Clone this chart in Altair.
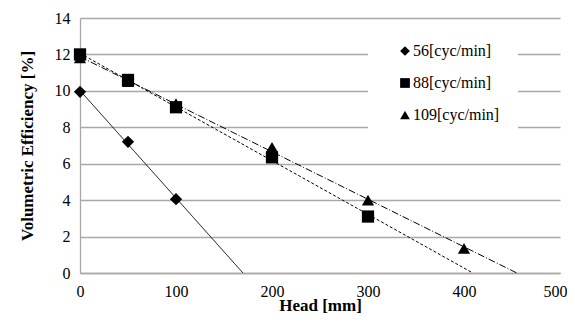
import altair as alt
import numpy as np
import pandas as pd

series = ["56[cyc/min]", "88[cyc/min]", "109[cyc/min]"]
x56 = [0, 50, 100]
y56 = [9.95, 7.2, 4.05]
x88 = [0, 50, 100, 200, 300]
y88 = [12.0, 10.6, 9.1, 6.35, 3.1]
x109 = [0, 50, 100, 200, 300, 400]
y109 = [11.8, 10.5, 9.3, 6.9, 4.0, 1.35]
xticks = [0, 100, 200, 300, 400, 500]
yticks = [0, 2, 4, 6, 8, 10, 12, 14]

pts = []
trend = []
for name, xs, ys in [(series[0], x56, y56), (series[1], x88, y88), (series[2], x109, y109)]:
    for a, b in zip(xs, ys):
        pts.append({"s": name, "x": a, "y": b})
    m, c = np.polyfit(xs, ys, 1)
    trend.append({"t": name, "x": 0.0, "y": float(c)})
    trend.append({"t": name, "x": float(-c / m), "y": 0.0})

pts = pd.DataFrame(pts)
trend = pd.DataFrame(trend)

font = "Liberation Serif"
xs_ = alt.Scale(domain=[0, 500], nice=False)
ys_ = alt.Scale(domain=[0, 14], nice=False)
xax = alt.Axis(values=xticks, title="Head [mm]",
               labelAlign=alt.ExprRef("datum.value == 500 ? 'right' : 'center'"),
               labelOffset=alt.ExprRef("datum.value == 500 ? 7 : 0"))
yax = alt.Axis(values=yticks, title="Volumetric Efficiency  [%]")
X = alt.X("x:Q", scale=xs_, axis=xax)
Y = alt.Y("y:Q", scale=ys_, axis=yax)

lines = alt.Chart(trend).mark_line(color="black", strokeWidth=1).encode(
    x=X, y=Y,
    strokeDash=alt.StrokeDash("t:N", scale=alt.Scale(domain=series, range=[[1, 0], [3, 2], [7, 2, 1, 2]]), legend=None),
)

points = alt.Chart(pts).mark_point(filled=True, opacity=1, size=150).encode(
    x=X, y=Y,
    color=alt.value("black"),
    shape=alt.Shape("s:N", scale=alt.Scale(domain=series, range=["diamond", "square", "triangle-up"]),
                    legend=alt.Legend(title=None, orient="none", legendX=288, legendY=7,
                                      fillColor="white", padding=18, symbolSize=95,
                                      symbolFillColor="black", symbolStrokeColor="black",
                                      labelFont=font, labelFontSize=16, labelColor="black",
                                      rowPadding=16, symbolOffset=11, labelOffset=0)),
)

chart = alt.layer(points, lines).properties(
    width=480, height=255,
    autosize=alt.AutoSizeParams(type="none"),
    padding={"left": 72, "top": 10, "right": 7, "bottom": 41},
    background="white",
).resolve_legend(shape="independent", strokeDash="independent").configure(
    font=font
).configure_view(stroke=None).configure_axis(
    labelFont=font, labelFontSize=16, labelColor="black",
    titleFont=font, titleFontSize=17, titleFontWeight="bold", titleColor="black",
    gridColor="#a8a8a8", gridWidth=1.3, domainColor="#a8a8a8", domainWidth=1.3,
    ticks=False, labelOverlap=False, labelFlush=False,
).configure_axisX(labelPadding=10, titlePadding=-2, grid=False).configure_axisY(
    labelPadding=10, titlePadding=18
)

chart.save("out.html", embed_options={"renderer": "svg", "actions": False})
